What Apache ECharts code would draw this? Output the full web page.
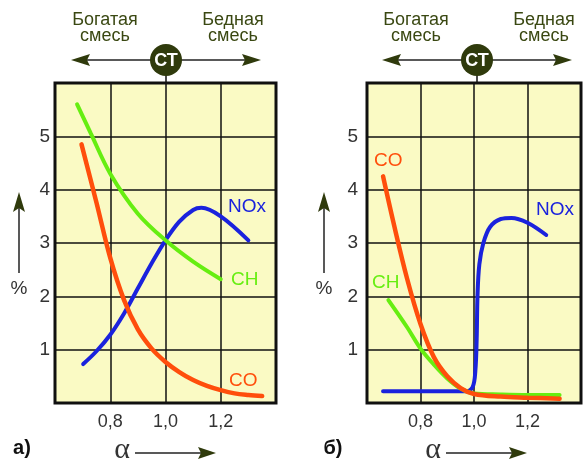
<!DOCTYPE html>
<html><head><meta charset="utf-8">
<script src="https://cdn.jsdelivr.net/npm/echarts@6/dist/echarts.min.js"></script>
<style>html,body{margin:0;padding:0;background:#fff}#c{width:584px;height:460px}</style>
</head><body><div id="c"></div>
<script>
// tick labels
const xTickVals = [0.8, 1.0, 1.2];
const xTickLabels = ['0,8', '1,0', '1,2'];
const yTickVals = [1, 2, 3, 4, 5];
const yTickLabels = ['1', '2', '3', '4', '5'];

// chart a) — (alpha, %)
const coA  = [[0.696,4.85],[0.75,3.76],[0.8,2.72],[0.85,1.93],[0.9,1.38],[0.95,1.02],[1.0,0.77],[1.05,0.58],[1.1,0.43],[1.15,0.32],[1.2,0.24],[1.25,0.18],[1.3,0.15],[1.35,0.13]];
const chA  = [[0.68,5.6],[0.73,5.05],[0.8,4.3],[0.9,3.55],[1.0,3.05],[1.1,2.65],[1.2,2.32]];
const noxA = [[0.702,0.73],[0.75,0.97],[0.8,1.28],[0.85,1.68],[0.9,2.15],[0.95,2.62],[1.0,3.05],[1.05,3.4],[1.1,3.62],[1.13,3.66],[1.2,3.5],[1.3,3.05]];

// chart б) — (alpha, %)
const coB  = [[0.66,4.25],[0.7,3.36],[0.75,2.33],[0.8,1.48],[0.85,0.86],[0.9,0.5],[0.95,0.28],[1.0,0.17],[1.1,0.12],[1.2,0.1],[1.32,0.08]];
const chB  = [[0.68,1.93],[0.75,1.42],[0.8,1.02],[0.85,0.72],[0.9,0.46],[0.95,0.27],[1.0,0.18],[1.1,0.16],[1.2,0.15],[1.32,0.15]];
const noxB = [[0.66,0.22],[0.97,0.22],[0.995,0.3],[1.005,0.6],[1.01,1.2],[1.013,2.0],[1.02,2.6],[1.035,3.0],[1.06,3.3],[1.1,3.45],[1.14,3.47],[1.2,3.38],[1.27,3.15]];

const C_CO = '#ff4e0c', C_CH = '#66ee11', C_NOX = '#1a22dd';
const OLIVE = '#3a4812', DARK = '#2f3a0c';
const FONT = '"Liberation Sans", Arial, sans-serif';

function lbl(vals, labels) {
  return v => { const i = vals.findIndex(t => Math.abs(t - v) < 1e-6); return i >= 0 ? labels[i] : ''; };
}
function xAx(gi) {
  return { type: 'value', gridIndex: gi, min: 0.6, max: 1.4, interval: 0.2,
    axisLine: { show: false }, axisTick: { show: false },
    splitLine: { show: true, lineStyle: { color: '#111', width: 1.5 } },
    axisLabel: { formatter: lbl(xTickVals, xTickLabels), color: '#333', fontSize: 18, fontFamily: FONT, margin: 10 } };
}
function yAx(gi, m) {
  return { type: 'value', gridIndex: gi, min: 0, max: 6, interval: 1,
    axisLine: { show: false }, axisTick: { show: false },
    splitLine: { show: true, lineStyle: { color: '#111', width: 1.5 } },
    axisLabel: { formatter: lbl(yTickVals, yTickLabels), color: '#333', fontSize: 19, fontFamily: FONT, margin: m } };
}
function ser(gi, data, color, w) {
  return { type: 'line', xAxisIndex: gi, yAxisIndex: gi, data: data, smooth: 0.35,
    showSymbol: false, symbol: 'none', lineStyle: { color: color, width: w, cap: 'round' }, silent: true };
}

const graphics = [];
function txt(x, y, text, fill, size, extra) {
  graphics.push(Object.assign({ type: 'text', z: 100, style: { x: x, y: y, text: text, fill: fill,
    font: (extra && extra.weight ? extra.weight + ' ' : '') + size + 'px ' + ((extra && extra.family) || FONT),
    textAlign: (extra && extra.align) || 'center', textVerticalAlign: 'middle', verticalAlign: 'middle' } }));
}
function line(x1, y1, x2, y2, w, color) {
  graphics.push({ type: 'line', z: 90, shape: { x1, y1, x2, y2 }, style: { stroke: color || '#222', lineWidth: w } });
}
function tri(points, color) {
  graphics.push({ type: 'polygon', z: 95, shape: { points: points }, style: { fill: color || DARK } });
}
function header(cx) {
  txt(cx - 61, 20, 'Богатая', OLIVE, 18);
  txt(cx - 61, 36, 'смесь', OLIVE, 18);
  txt(cx + 67, 20, 'Бедная', OLIVE, 18);
  txt(cx + 67, 36, 'смесь', OLIVE, 18);
  line(cx - 88, 60, cx + 88, 60, 1.5, '#222');
  tri([[cx - 95, 60], [cx - 76, 54], [cx - 79, 60], [cx - 76, 66]]);
  tri([[cx + 95, 60], [cx + 76, 54], [cx + 79, 60], [cx + 76, 66]]);
  line(cx, 70, cx, 84, 1.5, '#111');
  graphics.push({ type: 'circle', z: 96, shape: { cx: cx, cy: 60, r: 16 }, style: { fill: DARK } });
  txt(cx, 61, 'СТ', '#fff', 18, { weight: 'bold' });
}
function yArrow(x) {
  line(x, 273, x, 205, 1.5, '#222');
  tri([[x, 192], [x - 6, 212], [x, 208], [x + 6, 212]]);
  txt(x, 289, '%', '#333', 19);
}
function bottom(cx, tag) {
  txt(cx - 144, 448, tag, '#111', 20, { weight: 'bold' });
  txt(cx - 44, 450, 'α', '#333', 30, { family: '"Liberation Serif", "DejaVu Serif", serif' });
  line(cx - 31, 453, cx + 40, 453, 1.5, '#222');
  tri([[cx + 50, 453], [cx + 32, 447], [cx + 35, 453], [cx + 32, 459]]);
}

header(166); header(477);
yArrow(19); yArrow(324);
bottom(166, 'а)'); bottom(477, 'б)');

// series labels
txt(228, 207, 'NOx', C_NOX, 19, { align: 'left' });
txt(231, 280, 'CH', C_CH, 19, { align: 'left' });
txt(229, 381, 'CO', C_CO, 19, { align: 'left' });
txt(374, 161, 'CO', C_CO, 19, { align: 'left' });
txt(372, 283, 'CH', C_CH, 19, { align: 'left' });
txt(536, 210, 'NOx', C_NOX, 19, { align: 'left' });

const chart = echarts.init(document.getElementById('c'), null, { renderer: 'canvas' });
chart.setOption({
  animation: false,
  backgroundColor: '#ffffff',
  grid: [
    { left: 55, top: 83, width: 221, height: 320, show: true, backgroundColor: '#fafac4', borderColor: '#111', borderWidth: 3 },
    { left: 367, top: 83, width: 221, height: 320, show: true, backgroundColor: '#fafac4', borderColor: '#111', borderWidth: 3 }
  ],
  xAxis: [xAx(0), xAx(1)],
  yAxis: [yAx(0, 5), yAx(1, 9)],
  series: [
    ser(0, noxA, C_NOX, 4), ser(0, coA, C_CO, 4.5), ser(0, chA, C_CH, 4),
    ser(1, noxB, C_NOX, 4), ser(1, chB, C_CH, 4), ser(1, coB, C_CO, 4.5)
  ],
  graphic: graphics
});
</script>
</body></html>
